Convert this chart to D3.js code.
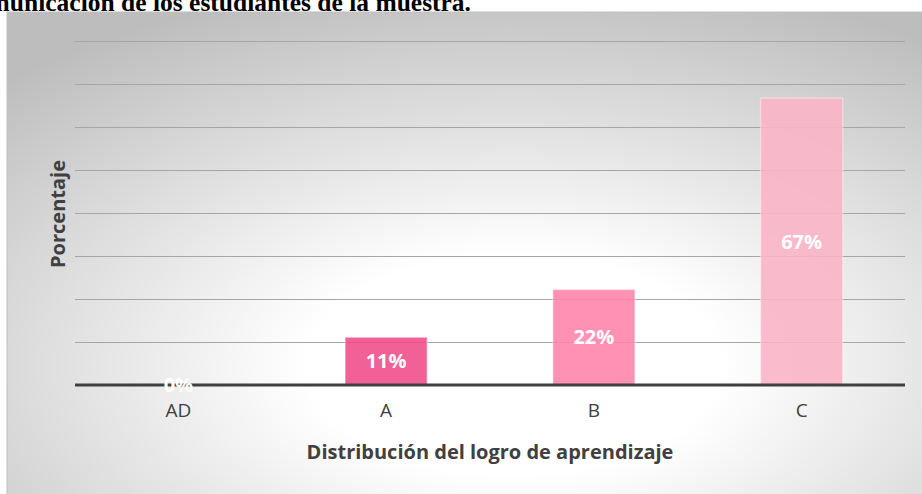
<!DOCTYPE html>
<meta charset="utf-8">
<style>
    body { margin: 0; background-color: #ffffff; }
    .grid line { stroke: #a6a6a6; stroke-width: 1px; shape-rendering: crispEdges; }
    .grid path { display: none; }
    .axis--x path { display: none; }
    .axis--x line { display: none; }
    .axis--x text { font: 19px "Open Sans", sans-serif; fill: #404040; }
    .bar-label { font: bold 20px "Open Sans", sans-serif; fill: #ffffff; }
    .axis-title { font: bold 20px "Open Sans", sans-serif; fill: #404040; }
</style>
<body>
    <svg width="922" height="494"></svg>
</body>
<script src="https://d3js.org/d3.v7.min.js"></script>
<script>
    var categories = ["AD", "A", "B", "C"];
    var values = [0, 11.1, 22.2, 66.7];
    var labels = ["0%", "11%", "22%", "67%"];
    var colors = ["#f0508c", "#f0508c", "#ff85ad", "#f9b4c7"];
    var gridTicks = [0, 10, 20, 30, 40, 50, 60, 70, 80];

    var svg = d3.select("svg"),
        margin = { top: 41, right: 17, bottom: 109, left: 75 },
        width = +svg.attr("width") - margin.left - margin.right,
        height = +svg.attr("height") - margin.top - margin.bottom;

    // background panel with radial gradient
    var defs = svg.append("defs");
    var grad = defs.append("radialGradient")
        .attr("id", "bg")
        .attr("cx", "0.55").attr("cy", "0.72").attr("r", "0.8");
    grad.append("stop").attr("offset", "0%").attr("stop-color", "#ffffff");
    grad.append("stop").attr("offset", "28%").attr("stop-color", "#ffffff");
    grad.append("stop").attr("offset", "100%").attr("stop-color", "#bdbdbd");

    svg.append("rect")
        .attr("x", 7).attr("y", 12)
        .attr("width", 922).attr("height", 490)
        .attr("fill", "url(#bg)")
        .attr("stroke", "#bfbfbf")
        .attr("stroke-width", 1);

    svg.append("text")
        .attr("x", 471)
        .attr("y", 11)
        .attr("text-anchor", "end")
        .style("font", "bold 25.5px 'Liberation Serif', serif")
        .style("fill", "#000")
        .text("Comunicación de los estudiantes de la muestra.");

    var x = d3.scaleBand().domain(categories).range([0, width]).paddingInner(0.605).paddingOuter(0.3);
    var y = d3.scaleLinear().domain([0, 80]).range([height, 0]);

    var g = svg.append("g")
        .attr("transform", "translate(" + margin.left + "," + margin.top + ")");

    g.append("g")
        .attr("class", "grid")
        .call(d3.axisLeft(y).tickValues(gridTicks.slice(1)).tickSize(-width).tickFormat(""));

    g.selectAll(".bar")
        .data(categories)
        .enter().append("rect")
        .attr("class", "bar")
        .attr("x", function(d) { return x(d); })
        .attr("y", function(d, i) { return y(values[i]); })
        .attr("width", x.bandwidth())
        .attr("height", function(d, i) { return height - y(values[i]); })
        .attr("fill", function(d, i) { return colors[i]; })
        .attr("fill-opacity", 0.9)
        .attr("stroke", "#ffffff")
        .attr("stroke-opacity", 0.35)
        .attr("stroke-width", 1.5);

    g.append("line")
        .attr("x1", 0).attr("x2", width)
        .attr("y1", y(0)).attr("y2", y(0))
        .attr("stroke", "#404040")
        .attr("stroke-width", 3);

    g.selectAll(".bar-label")
        .data(categories)
        .enter().append("text")
        .attr("class", "bar-label")
        .attr("x", function(d) { return x(d) + x.bandwidth() / 2; })
        .attr("y", function(d, i) { return (y(values[i]) + y(0)) / 2; })
        .attr("dy", ".35em")
        .attr("text-anchor", "middle")
        .text(function(d, i) { return labels[i]; });

    g.append("g")
        .attr("class", "axis axis--x")
        .attr("transform", "translate(0," + height + ")")
        .call(d3.axisBottom(x).tickSize(0).tickPadding(19));

    svg.append("text")
        .attr("class", "axis-title")
        .attr("x", 490)
        .attr("y", 459)
        .attr("text-anchor", "middle")
        .text("Distribución del logro de aprendizaje");

    svg.append("text")
        .attr("class", "axis-title")
        .attr("transform", "translate(65,214) rotate(-90)")
        .attr("text-anchor", "middle")
        .text("Porcentaje");
</script>
